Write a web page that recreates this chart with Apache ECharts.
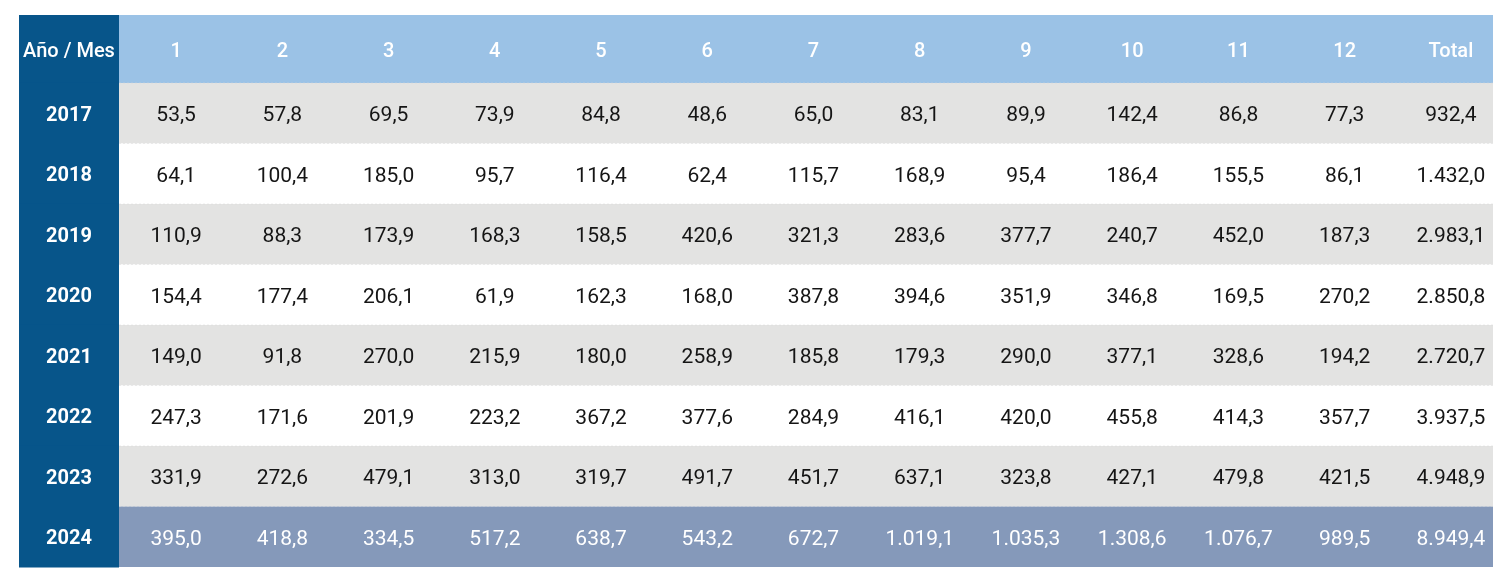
<!DOCTYPE html>
<html><head><meta charset="utf-8">
<script src="https://cdn.jsdelivr.net/npm/echarts@6/dist/echarts.min.js"></script>
<style>html,body{margin:0;padding:0;background:#fff}#c{width:1510px;height:587px}</style>
</head><body><div id="c"></div>
<script>
const cornerLabel = 'Año / Mes';
const months = ['1','2','3','4','5','6','7','8','9','10','11','12','Total'];
const years = ['2017','2018','2019','2020','2021','2022','2023','2024'];
const v2017 = [53.5, 57.8, 69.5, 73.9, 84.8, 48.6, 65.0, 83.1, 89.9, 142.4, 86.8, 77.3, 932.4];
const v2018 = [64.1, 100.4, 185.0, 95.7, 116.4, 62.4, 115.7, 168.9, 95.4, 186.4, 155.5, 86.1, 1432.0];
const v2019 = [110.9, 88.3, 173.9, 168.3, 158.5, 420.6, 321.3, 283.6, 377.7, 240.7, 452.0, 187.3, 2983.1];
const v2020 = [154.4, 177.4, 206.1, 61.9, 162.3, 168.0, 387.8, 394.6, 351.9, 346.8, 169.5, 270.2, 2850.8];
const v2021 = [149.0, 91.8, 270.0, 215.9, 180.0, 258.9, 185.8, 179.3, 290.0, 377.1, 328.6, 194.2, 2720.7];
const v2022 = [247.3, 171.6, 201.9, 223.2, 367.2, 377.6, 284.9, 416.1, 420.0, 455.8, 414.3, 357.7, 3937.5];
const v2023 = [331.9, 272.6, 479.1, 313.0, 319.7, 491.7, 451.7, 637.1, 323.8, 427.1, 479.8, 421.5, 4948.9];
const v2024 = [395.0, 418.8, 334.5, 517.2, 638.7, 543.2, 672.7, 1019.1, 1035.3, 1308.6, 1076.7, 989.5, 8949.4];
const rowValues = [v2017, v2018, v2019, v2020, v2021, v2022, v2023, v2024];

const DARK = '#07558A', HEAD = '#9BC2E6', GREY = '#E3E3E2', LAST = '#8599BA';
const FONT = 'Roboto, "Noto Sans", sans-serif';
const TEXT_DY = 2.5;

function fmt(v){
  const s = v.toFixed(1).split('.');
  return s[0].replace(/\B(?=(\d{3})+(?!\d))/g, '.') + ',' + s[1];
}

const cellData = [];
rowValues.forEach((row, i) => row.forEach((v, j) => cellData.push([j, i, v])));

function hidden(type, gi, data, extra){
  return Object.assign({type, gridIndex: gi, show: false, data,
    axisLine:{show:false}, axisTick:{show:false}, splitLine:{show:false}}, extra||{});
}

const chart = echarts.init(document.getElementById('c'), null, {renderer:'canvas'});
chart.setOption({
  animation: false,
  backgroundColor: '#fff',
  grid: [
    {left:19, top:15, width:100, height:68},
    {left:119, top:15, width:1374, height:68},
    {left:123, top:15, width:1381, height:68},
    {left:19, top:83, width:100, height:484},
    {left:119, top:83, width:1374, height:484},
    {left:123, top:83, width:1381, height:484}
  ],
  xAxis: [
    hidden('category', 0, [cornerLabel]),
    hidden('value', 1, undefined, {min:0, max:1}),
    hidden('category', 2, months),
    hidden('category', 3, ['year']),
    hidden('value', 4, undefined, {min:0, max:1}),
    hidden('category', 5, months)
  ],
  yAxis: [
    hidden('category', 0, ['head']),
    hidden('category', 1, ['head']),
    hidden('category', 2, ['head']),
    hidden('category', 3, years, {inverse:true}),
    hidden('category', 4, years, {inverse:true}),
    hidden('category', 5, years, {inverse:true})
  ],
  series: [
    { // corner cell
      type:'custom', xAxisIndex:0, yAxisIndex:0, data:[[0,0]],
      renderItem(params, api){
        const p = api.coord([api.value(0), api.value(1)]);
        const s = api.size([1,1]);
        return {type:'group', children:[
          {type:'rect', shape:{x:p[0]-s[0]/2, y:p[1]-s[1]/2, width:s[0], height:s[1]+1}, style:{fill:DARK}},
          {type:'text', x:p[0], y:p[1]+TEXT_DY, style:{text:cornerLabel, fill:'#fff', fontSize:20, fontWeight:500, fontFamily:FONT, align:'center', verticalAlign:'middle'}}
        ]};
      }
    },
    { // header background
      type:'custom', xAxisIndex:1, yAxisIndex:1, data:[[0,0]],
      renderItem(params, api){
        const a = api.coord([0, 0]);
        const b = api.coord([1, 0]);
        const h = api.size([0,1])[1];
        return {type:'rect', shape:{x:a[0], y:a[1]-h/2, width:b[0]-a[0], height:h}, style:{fill:HEAD}};
      }
    },
    { // header labels
      type:'custom', xAxisIndex:2, yAxisIndex:2, data: months.map((m,j)=>[j,0]),
      renderItem(params, api){
        const p = api.coord([api.value(0), api.value(1)]);
        return {type:'text', x:p[0], y:p[1]+TEXT_DY, style:{text:months[params.dataIndex], fill:'#fff', fontSize:20, fontWeight:500, fontFamily:FONT, align:'center', verticalAlign:'middle'}};
      }
    },
    { // year column
      type:'custom', xAxisIndex:3, yAxisIndex:3, data: years.map((y,i)=>[0,i]),
      renderItem(params, api){
        const p = api.coord([api.value(0), api.value(1)]);
        const s = api.size([1,1]);
        return {type:'group', children:[
          {type:'rect', shape:{x:p[0]-s[0]/2, y:p[1]-s[1]/2-0.5, width:s[0], height:s[1]+1}, style:{fill:DARK}},
          {type:'text', x:p[0], y:p[1]+TEXT_DY, style:{text:years[params.dataIndex], fill:'#fff', fontSize:20, fontWeight:700, fontFamily:FONT, align:'center', verticalAlign:'middle'}}
        ]};
      }
    },
    { // row backgrounds
      type:'custom', xAxisIndex:4, yAxisIndex:4, data: years.map((y,i)=>[0,i]),
      renderItem(params, api){
        const i = params.dataIndex;
        const a = api.coord([0, api.value(1)]);
        const b = api.coord([1, api.value(1)]);
        const h = api.size([0,1])[1];
        const fill = i === years.length-1 ? LAST : (i % 2 === 0 ? GREY : '#fff');
        return {type:'group', children:[
          {type:'rect', shape:{x:a[0], y:a[1]-h/2, width:b[0]-a[0], height:h}, style:{fill}},
          {type:'line', shape:{x1:a[0], y1:a[1]-h/2, x2:b[0], y2:a[1]-h/2}, style:{stroke:'rgba(215,215,215,0.45)', lineWidth:1, lineDash:[2,2]}}
        ]};
      }
    },
    { // values
      type:'custom', xAxisIndex:5, yAxisIndex:5, data: cellData,
      renderItem(params, api){
        const p = api.coord([api.value(0), api.value(1)]);
        const last = api.value(1) === years.length-1;
        return {type:'text', x:p[0], y:p[1]+TEXT_DY, style:{text:fmt(api.value(2)), fill: last ? '#fff' : '#151515', fontSize:21, fontWeight:400, fontFamily:FONT, align:'center', verticalAlign:'middle'}};
      }
    }
  ]
});
</script>
</body></html>
